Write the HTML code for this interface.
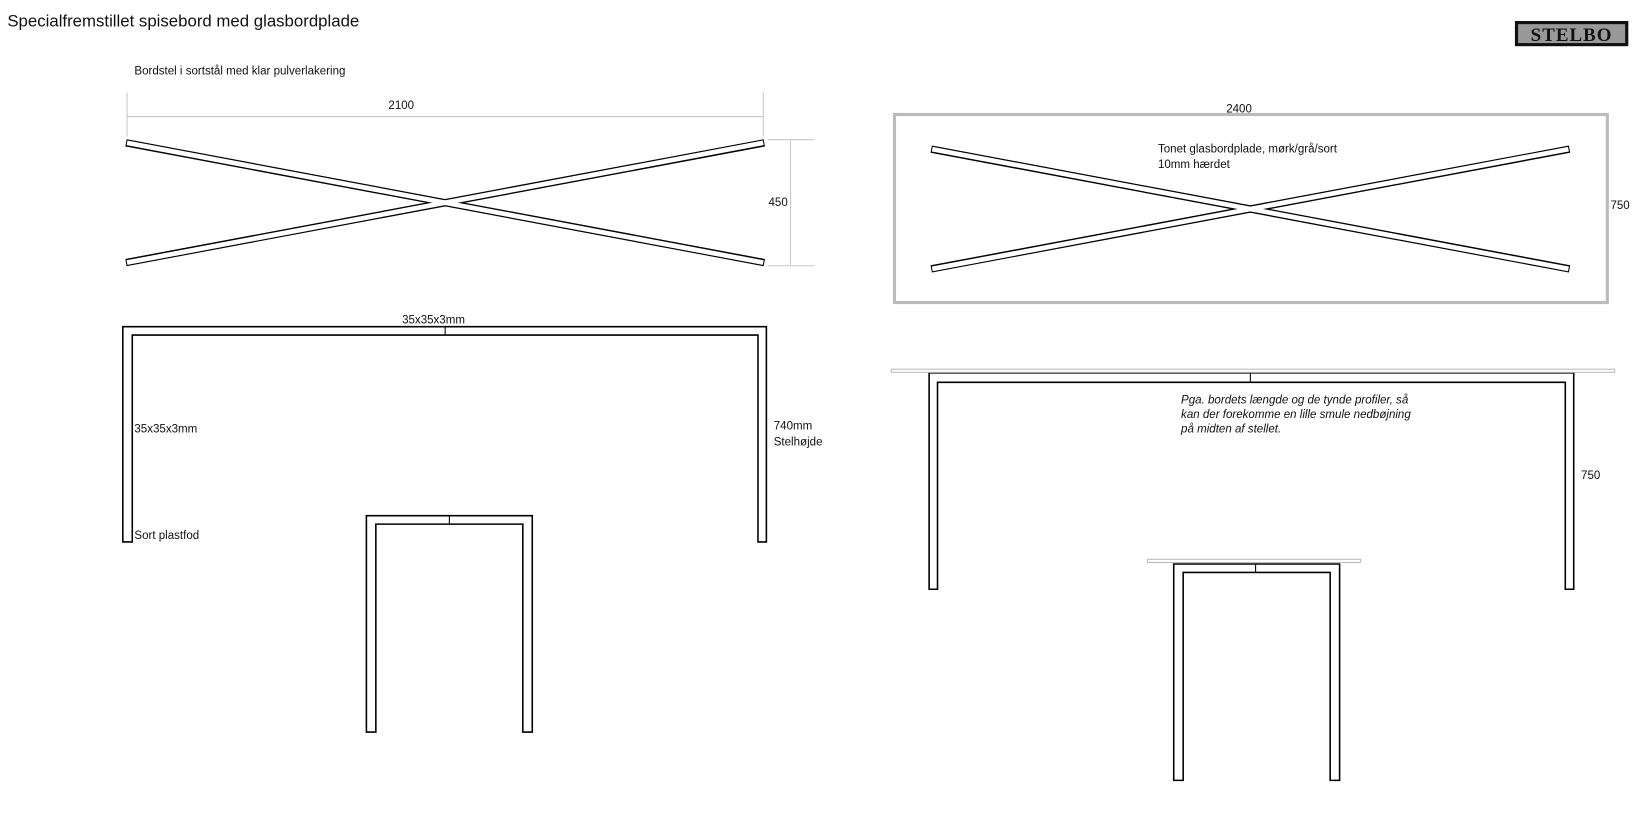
<!DOCTYPE html>
<html><head><meta charset="utf-8"><style>
html,body{margin:0;padding:0;background:#fff;width:1643px;height:814px;overflow:hidden}
svg{display:block}
text{font-family:"Liberation Sans",sans-serif;fill:#111}
</style></head><body>
<svg width="1643" height="814" viewBox="0 0 1565 775" preserveAspectRatio="none" xmlns="http://www.w3.org/2000/svg">
<text x="7" y="25" font-size="16">Specialfremstillet spisebord med glasbordplade</text>
<rect x="1443" y="20" width="108" height="24" fill="#111"/>
<rect x="1446" y="23" width="102" height="18" fill="#999"/>
<text x="1497" y="39" font-size="18" font-weight="bold" text-anchor="middle" style="font-family:'Liberation Serif',serif;letter-spacing:1px">STELBO</text>

<text x="128" y="71" font-size="11">Bordstel i sortstål med klar pulverlakering</text>
<g stroke="#c8c8c8" stroke-width="1">
<line x1="121" y1="88" x2="121" y2="130"/><line x1="727" y1="88" x2="727" y2="130"/>
<line x1="121" y1="111" x2="727" y2="111"/>
<line x1="731" y1="133" x2="776" y2="133"/><line x1="731" y1="253" x2="776" y2="253"/>
<line x1="753" y1="133" x2="753" y2="253"/>
</g>
<text x="370" y="104" font-size="11">2100</text>
<text x="732" y="196" font-size="11">450</text>

<g stroke-linecap="butt">
<line x1="120" y1="136" x2="728" y2="250" stroke="#000" stroke-width="7"/>
<line x1="120" y1="250" x2="728" y2="136" stroke="#000" stroke-width="7"/>
<line x1="121" y1="136" x2="727" y2="250" stroke="#fff" stroke-width="4.5"/>
<line x1="121" y1="250" x2="727" y2="136" stroke="#fff" stroke-width="4.5"/>

<line x1="887" y1="142" x2="1495" y2="256" stroke="#000" stroke-width="7"/>
<line x1="887" y1="256" x2="1495" y2="142" stroke="#000" stroke-width="7"/>
<line x1="888" y1="142" x2="1494" y2="256" stroke="#fff" stroke-width="4.5"/>
<line x1="888" y1="256" x2="1494" y2="142" stroke="#fff" stroke-width="4.5"/>
</g>
<rect x="852" y="109" width="679" height="179" fill="none" stroke="#bbb" stroke-width="3"/>
<text x="1168" y="107" font-size="11">2400</text>
<text x="1103" y="145" font-size="11">Tonet glasbordplade, mørk/grå/sort</text>
<text x="1103" y="160" font-size="11">10mm hærdet</text>
<text x="1534" y="199" font-size="11">750</text>

<g fill="#fff" stroke="#000" stroke-width="1.5">
<path d="M117,516 L117,311 L730,311 L730,516 L722,516 L722,319 L126,319 L126,516 Z"/>
<path d="M349,697 L349,491 L507,491 L507,697 L498,697 L498,499 L358,499 L358,697 Z"/>
<path d="M885,561 L885,355 L1499,355 L1499,561 L1491,561 L1491,364 L893,364 L893,561 Z"/>
<path d="M1118,743 L1118,537 L1276,537 L1276,743 L1267,743 L1267,545 L1127,545 L1127,743 Z"/>
</g>
<g stroke="#000" stroke-width="1">
<line x1="424" y1="311" x2="424" y2="319"/>
<line x1="428" y1="491" x2="428" y2="499"/>
<line x1="1191" y1="355" x2="1191" y2="364"/>
<line x1="1196" y1="537" x2="1196" y2="545"/>
</g>
<rect x="849" y="351.5" width="689" height="3" fill="#fff" stroke="#bbb" stroke-width="1"/>
<rect x="1093" y="532.5" width="203" height="3" fill="#fff" stroke="#bbb" stroke-width="1"/>

<text x="383" y="308" font-size="11">35x35x3mm</text>
<text x="128" y="412" font-size="11">35x35x3mm</text>
<text x="737" y="409" font-size="11">740mm</text>
<text x="737" y="424" font-size="11">Stelhøjde</text>
<text x="128" y="513" font-size="11">Sort plastfod</text>
<g font-size="11" font-style="italic">
<text x="1125" y="384">Pga. bordets længde og de tynde profiler, så</text>
<text x="1125" y="398">kan der forekomme en lille smule nedbøjning</text>
<text x="1125" y="412">på midten af stellet.</text>
</g>
<text x="1506" y="456" font-size="11">750</text>
</svg>
</body></html>
